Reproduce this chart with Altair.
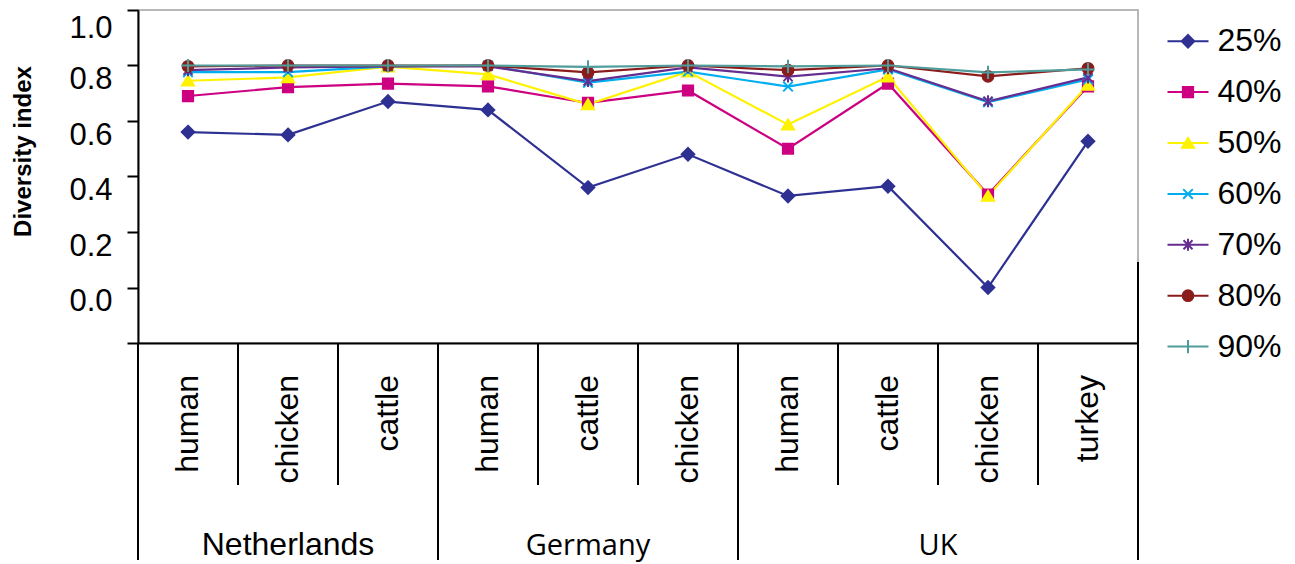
import altair as alt
import pandas as pd

# ---------------- data ----------------
groups = ["Netherlands", "Germany", "UK"]
group_sizes = [3, 3, 4]
categories = ["human", "chicken", "cattle",
              "human", "cattle", "chicken",
              "human", "cattle", "chicken", "turkey"]
series = ["25%", "40%", "50%", "60%", "70%", "80%", "90%"]

v25 = [0.56, 0.55, 0.67, 0.64, 0.36, 0.48, 0.33, 0.365, 0.00, 0.527]
v40 = [0.69, 0.722, 0.735, 0.725, 0.665, 0.71, 0.50, 0.735, 0.335, 0.725]
v50 = [0.745, 0.757, 0.796, 0.768, 0.66, 0.778, 0.587, 0.76, 0.33, 0.73]
v60 = [0.776, 0.776, 0.797, 0.80, 0.738, 0.778, 0.724, 0.786, 0.668, 0.75]
v70 = [0.783, 0.793, 0.797, 0.797, 0.744, 0.793, 0.76, 0.79, 0.671, 0.757]
v80 = [0.797, 0.80, 0.80, 0.80, 0.775, 0.80, 0.783, 0.80, 0.761, 0.79]
v90 = [0.80, 0.80, 0.80, 0.80, 0.795, 0.80, 0.797, 0.80, 0.775, 0.786]
values = [v25, v40, v50, v60, v70, v80, v90]

colors = ["#2E3192", "#CC0080", "#FFF200", "#00AEEF", "#662D91", "#8B1C1C", "#4F9D9B"]

y_ticks = [-0.2, 0.0, 0.2, 0.4, 0.6, 0.8, 1.0]

# ---------------- tables ----------------
rows = []
for s, vals in zip(series, values):
    for i, (c, v) in enumerate(zip(categories, vals)):
        rows.append({"series": s, "pos": i + 0.5, "cat": c, "value": v})
df = pd.DataFrame(rows)

cat_df = pd.DataFrame({"pos": [i + 0.5 for i in range(len(categories))], "cat": categories})

edges = [0]
for n in group_sizes:
    edges.append(edges[-1] + n)
major_df = pd.DataFrame({"b": edges})
minor_df = pd.DataFrame({"b": [b for b in range(1, len(categories)) if b not in edges]})
group_df = pd.DataFrame({"group": groups,
                         "center": [(edges[i] + edges[i + 1]) / 2 for i in range(len(groups))]})


# ---------------- marker shapes ----------------
def f(x):
    return f"{x:.3f}"


def marker_paths(k):
    d, s, t, x, a, c, p = 1.05 * k, 0.85 * k, k, 0.8 * k, 0.75 * k, 0.9 * k, 1.1 * k
    return [
        f"M0,{f(-d)}L{f(d)},0L0,{f(d)}L{f(-d)},0Z",
        f"M{f(-s)},{f(-s)}H{f(s)}V{f(s)}H{f(-s)}Z",
        f"M0,{f(-0.85 * t)}L{f(t)},{f(0.8 * t)}H{f(-t)}Z",
        f"M{f(-x)},{f(-x)}L{f(x)},{f(x)}M{f(-x)},{f(x)}L{f(x)},{f(-x)}",
        f"M{f(-a)},{f(-a)}L{f(a)},{f(a)}M{f(-a)},{f(a)}L{f(a)},{f(-a)}M0,{f(-1.0 * k)}V{f(1.0 * k)}",
        f"M{f(-c)},0A{f(c)},{f(c)} 0 1,0 {f(c)},0A{f(c)},{f(c)} 0 1,0 {f(-c)},0Z",
        f"M0,{f(-p)}V{f(p)}M{f(-p)},0H{f(p)}",
    ]


plot_shapes = marker_paths(1.0)
legend_shapes = ["M-1,0H1" + m for m in marker_paths(6 / 20.5)]

W, H = 1000, 333

xs = alt.Scale(domain=[0, len(categories)], nice=False, zero=False)
ys = alt.Scale(domain=[y_ticks[0], y_ticks[-1]], nice=False, zero=False)
col_scale = alt.Scale(domain=series, range=colors)

y_axis = alt.Axis(
    values=y_ticks,
    labelExpr="datum.value < -0.1 ? '' : format(datum.value, '.1f')",
    grid=False, tickSize=11, tickWidth=2, tickColor="black",
    domainColor="black", domainWidth=2,
    labelFont="Liberation Sans", labelFontSize=31, labelColor="black",
    labelPadding=15,
    labelOffset={"condition": {"test": "datum.value > 0.9", "value": 3}, "value": -1},
    labelBaseline="top", labelOverlap=False,
    title="Diversity index", titleFont="Liberation Sans", titleFontSize=24,
    titleFontWeight="bold", titleColor="black", titleAngle=270,
    titleX=-115, titleY=141, titleAlign="center", titleBaseline="middle",
)
x_axis = alt.Axis(labels=False, ticks=False, grid=False, title=None,
                  domainColor="black", domainWidth=2)


def X(field):
    return alt.X(field, scale=xs, axis=x_axis)


def Y(field):
    return alt.Y(field, scale=ys, axis=y_axis)


lines = alt.Chart(df).mark_line(strokeWidth=2.2).encode(
    x=X("pos:Q"),
    y=Y("value:Q"),
    color=alt.Color("series:N", scale=col_scale, legend=None),
    order=alt.Order("pos:Q"),
)

points = alt.Chart(df).mark_point(filled=True, opacity=1, strokeWidth=2, size=144).encode(
    x=X("pos:Q"),
    y=Y("value:Q"),
    fill=alt.Fill("series:N", scale=col_scale, legend=None),
    stroke=alt.Stroke("series:N", scale=col_scale, legend=None),
    shape=alt.Shape("series:N", scale=alt.Scale(domain=series, range=plot_shapes), legend=None),
)

legend_layer = alt.Chart(df).transform_filter("false").mark_point(
    filled=True, opacity=1, strokeWidth=2).encode(
    x=X("pos:Q"),
    y=Y("value:Q"),
    fill=alt.Fill("series:N", scale=col_scale, legend=alt.Legend(title=None)),
    stroke=alt.Stroke("series:N", scale=col_scale, legend=alt.Legend(title=None)),
    shape=alt.Shape("series:N", scale=alt.Scale(domain=series, range=legend_shapes),
                    legend=alt.Legend(title=None)),
)

minor_rules = alt.Chart(minor_df).mark_rule(color="black", strokeWidth=2).encode(
    x=X("b:Q"),
    y=alt.value(H), y2=alt.value(H + 142),
)
major_rules = alt.Chart(major_df).mark_rule(color="black", strokeWidth=2).encode(
    x=X("b:Q"),
    y=alt.value(H), y2=alt.value(H + 217),
)
right_edge = alt.Chart(major_df).transform_filter(
    f"datum.b == {edges[-1]}").mark_rule(color="black", strokeWidth=2).encode(
    x=X("b:Q"),
    y=alt.value(252), y2=alt.value(H),
)

cat_labels = alt.Chart(cat_df).mark_text(
    angle=270, align="right", baseline="middle", fontSize=32,
    font="Liberation Sans", color="black").encode(
    x=X("pos:Q"),
    y=alt.value(H + 32),
    text="cat:N",
)

grp_nl = alt.Chart(group_df).transform_filter("datum.group == 'Netherlands'").mark_text(
    align="center", baseline="alphabetic", fontSize=32, font="Liberation Sans",
    color="black").encode(
    x=X("center:Q"),
    y=alt.value(H + 212),
    text="group:N",
)
grp_other = alt.Chart(group_df).transform_filter("datum.group != 'Netherlands'").mark_text(
    align="center", baseline="alphabetic", fontSize=29, font="Open Sans",
    color="black").encode(
    x=X("center:Q"),
    y=alt.value(H + 212),
    text="group:N",
)

chart = alt.layer(
    minor_rules, major_rules, right_edge, cat_labels, grp_nl, grp_other,
    lines, points, legend_layer,
).resolve_scale(
    color="independent", fill="independent", stroke="independent", shape="independent"
).properties(
    width=W, height=H,
    autosize=alt.AutoSizeParams(type="none"),
    padding={"left": 130, "top": 2, "right": 149, "bottom": 219},
).configure(
    font="Liberation Sans",
).configure_view(
    stroke="#a0a0a0", strokeWidth=1.5,
).configure_legend(
    orient="none", legendX=1028.5, legendY=9.7, padding=0,
    symbolSize=1681, symbolStrokeWidth=2, labelFont="Liberation Sans",
    labelFontSize=32, labelColor="black", labelOffset=8, rowPadding=12.9,
)

chart.save("out.html", embed_options={"renderer": "svg", "actions": False})
